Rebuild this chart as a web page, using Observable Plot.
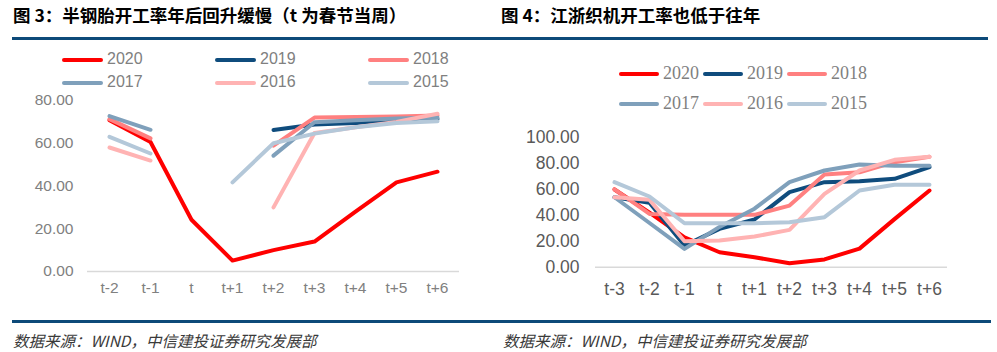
<!DOCTYPE html>
<html>
<head>
<meta charset="utf-8">
<script src="https://cdn.jsdelivr.net/npm/d3@7"></script>
<script src="https://cdn.jsdelivr.net/npm/@observablehq/plot@0.6"></script>
<style>
  html, body { margin: 0; padding: 0; background: #fff; }
  #root { position: relative; width: 997px; height: 352px; overflow: hidden; background: #fff; }
  .abs { position: absolute; }
  .title { font-family: "Noto Sans CJK SC", sans-serif; font-weight: 700; font-size: 17.5px; color: #000; white-space: nowrap; line-height: 1; }
  .rule { background: #0d4a79; height: 3px; }
  .src { font-family: "Noto Sans CJK SC", serif; font-style: italic; font-size: 15.5px; color: #3a3a3a; white-space: nowrap; line-height: 16px; height: 16px; }
  .lg { font-size: 15px; color: #808080; white-space: nowrap; line-height: 1; }
</style>
</head>
<body>
<div id="root"></div>
<script>
// ---------- data ----------
const years = ["2020", "2019", "2018", "2017", "2016", "2015"];
const seriesColors = ["#ff0000", "#0f4c7d", "#ff8080", "#7fa0bb", "#ffb3b3", "#b4c8d9"];

const leftWeeks = ["t-2", "t-1", "t", "t+1", "t+2", "t+3", "t+4", "t+5", "t+6"];
const left2020 = [70.8, 60.6, 24.2, 5.1, 10.0, 14.0, 28.0, 41.7, 46.7];
const left2019 = [null, null, null, null, 66.2, 68.8, 69.5, 70.5, 71.3];
const left2018 = [71.3, 62.3, null, null, 58.9, 72.0, 72.3, 72.5, 73.0];
const left2017 = [72.7, 66.3, null, null, 54.2, 69.8, 70.8, 71.6, 72.0];
const left2016 = [58.0, 51.9, null, null, 30.0, 64.8, 67.5, 70.0, 73.8];
const left2015 = [63.0, 55.2, null, 41.7, 60.0, 64.5, 67.5, 69.5, 70.3];

const rightWeeks = ["t-3", "t-2", "t-1", "t", "t+1", "t+2", "t+3", "t+4", "t+5", "t+6"];
const right2020 = [59.8, 42.0, 23.0, 11.5, 7.7, 3.0, 6.0, 14.3, 37.0, 59.0];
const right2019 = [53.8, 49.5, 16.7, 29.5, 36.7, 57.7, 65.4, 66.2, 68.0, 77.0];
const right2018 = [59.8, 41.0, 40.3, 40.3, 40.3, 47.4, 71.3, 73.0, 80.8, 85.0];
const right2017 = [53.8, 34.0, 14.1, 31.0, 45.0, 65.4, 74.4, 79.0, 78.0, 78.0];
const right2016 = [53.8, 51.8, 20.0, 20.5, 23.6, 28.7, 56.4, 74.4, 82.6, 85.0];
const right2015 = [65.4, 54.4, 33.8, 33.8, 33.8, 34.6, 38.5, 59.0, 63.4, 63.4];

const leftTicks = [0, 20, 40, 60, 80];
const rightTicks = [0, 20, 40, 60, 80, 100];

const leftTitle = "图 3：半钢胎开工率年后回升缓慢（t 为春节当周）";
const rightTitle = "图 4：江浙织机开工率也低于往年";
const sourceText = "数据来源：WIND，中信建投证券研究发展部";

// ---------- helpers ----------
const root = document.getElementById("root");
function addDiv(cls, css, text) {
  const d = document.createElement("div");
  d.className = "abs " + cls;
  Object.assign(d.style, css);
  if (text != null) d.textContent = text;
  root.appendChild(d);
  return d;
}
function toRows(weeks, vals) {
  return weeks.map((w, i) => ({week: w, value: vals[i]}));
}

// ---------- titles & rules ----------
addDiv("title", {left: "13px", top: "6px"}, leftTitle);
addDiv("title", {left: "501px", top: "6px"}, rightTitle);
addDiv("rule", {left: "12px", top: "37px", width: "488px"});
addDiv("rule", {left: "500px", top: "37px", width: "488px"});
addDiv("rule", {left: "12px", top: "320px", width: "979px"});
addDiv("src", {left: "13px", top: "332px"}, sourceText);
addDiv("src", {left: "503px", top: "332px"}, sourceText);

// ---------- legends ----------
function legend(items, opts) {
  items.forEach((y, i) => {
    const col = i % 3, row = Math.floor(i / 3);
    const x = opts.x0 + col * opts.dx;
    const yc = opts.y0 + row * opts.dy;
    addDiv("", {left: x + "px", top: (yc - 2) + "px", width: opts.sw + "px", height: "4px",
      background: seriesColors[i], borderRadius: "2px"});
    addDiv("lg", {left: (x + opts.sw + 4) + "px", top: (yc - opts.fs * 0.55) + "px",
      fontFamily: opts.font, fontSize: opts.fs + "px", color: opts.color}, y);
  });
}
legend(years, {x0: 62, dx: 153, y0: 60, dy: 23, sw: 41, fs: 16, font: "'Liberation Sans', Arial, sans-serif", color: "#808080"});
legend(years, {x0: 619, dx: 84, y0: 74, dy: 30, sw: 40, fs: 18, font: "'Liberation Serif', 'Times New Roman', serif", color: "#7f7f7f"});

// ---------- charts ----------
const leftSeries = [left2020, left2019, left2018, left2017, left2016, left2015];
const rightSeries = [right2020, right2019, right2018, right2017, right2016, right2015];

function chart(weeks, series, o) {
  const marks = [
    Plot.ruleY([0], {stroke: "#d9d9d9", strokeWidth: 1.5}),
    Plot.axisY({ticks: o.ticks, tickFormat: d => d.toFixed(2), tickSize: 0, tickPadding: o.yPad}),
    Plot.axisX({tickSize: 0, tickPadding: o.xPad})
  ];
  series.forEach((vals, i) => {
    marks.push(Plot.line(toRows(weeks, vals), {
      x: "week", y: "value", stroke: seriesColors[i], strokeWidth: o.sw,
      strokeLinejoin: "round", strokeLinecap: "round"
    }));
  });
  return Plot.plot({
    width: o.width, height: o.height,
    marginLeft: o.ml, marginRight: o.mr, marginTop: o.mt, marginBottom: o.mb,
    x: {type: "point", domain: weeks, padding: 0.5, label: null},
    y: {domain: o.domain, label: null},
    style: {fontFamily: "'Liberation Sans', Arial, sans-serif", fontSize: o.fs + "px", color: o.color, background: "transparent", overflow: "visible"},
    marks
  });
}

const leftSvg = chart(leftWeeks, leftSeries, {
  width: 490, height: 215, ml: 87, mr: 31, mt: 10, mb: 34,
  domain: [0, 80], ticks: leftTicks, yPad: 14, xPad: 10, sw: 4, fs: 15.5, color: "#808080"
});
leftSvg.style.position = "absolute";
leftSvg.style.left = "0px";
leftSvg.style.top = "90px";
root.appendChild(leftSvg);

const rightSvg = chart(rightWeeks, rightSeries, {
  width: 480, height: 190, ml: 95, mr: 33, mt: 16.7, mb: 43.3,
  domain: [0, 100], ticks: rightTicks, yPad: 16, xPad: 15, sw: 4, fs: 17.5, color: "#595959"
});
rightSvg.style.position = "absolute";
rightSvg.style.left = "500px";
rightSvg.style.top = "120px";
root.appendChild(rightSvg);
</script>
</body>
</html>
